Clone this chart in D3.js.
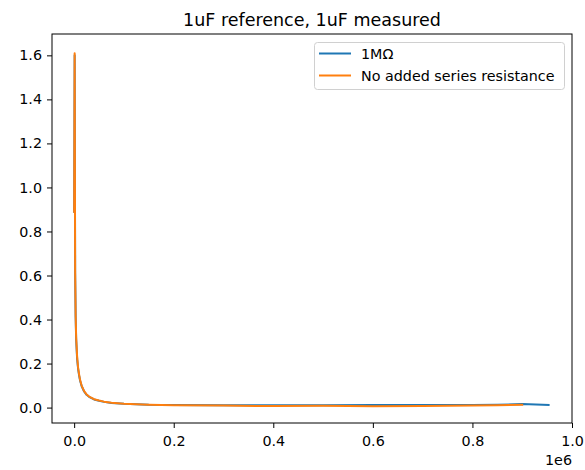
<!DOCTYPE html>
<html>
<head>
<meta charset="utf-8">
<script src="https://cdn.jsdelivr.net/npm/d3@7"></script>
<style>
  body { margin: 0; background: #fff; }
  text { font-family: "DejaVu Sans", sans-serif; fill: #000; }
</style>
</head>
<body>
<div class="center"></div>
<script>

// readings (x in Hz, y unitless)
var xs_1M = [0, 1000, 2000, 3000, 4000, 6000, 8000, 10000, 12000, 15000, 20000, 25000, 30000, 40000, 50000, 60000, 75000, 100000, 150000, 200000, 300000, 400000, 500000, 600000, 700000, 800000, 850000, 900000, 953000];
var ys_1M = [0.89, 1.60, 0.61, 0.41, 0.31, 0.22, 0.175, 0.145, 0.122, 0.098, 0.073, 0.058, 0.049, 0.037, 0.031, 0.026, 0.021, 0.017, 0.013, 0.012, 0.011, 0.011, 0.011, 0.012, 0.012, 0.012, 0.013, 0.016, 0.012];

var xs_none = [0, 1000, 2000, 3000, 4000, 6000, 8000, 10000, 12000, 15000, 20000, 25000, 30000, 40000, 50000, 60000, 75000, 100000, 150000, 200000, 300000, 400000, 500000, 600000, 700000, 800000, 850000, 900000];
var ys_none = [0.89, 1.61, 0.62, 0.42, 0.32, 0.23, 0.18, 0.15, 0.125, 0.10, 0.075, 0.06, 0.05, 0.038, 0.032, 0.027, 0.022, 0.017, 0.013, 0.011, 0.009, 0.007, 0.008, 0.006, 0.007, 0.010, 0.011, 0.013];

var series_names = ["1M\u03A9", "No added series resistance"];
var xticks = [0, 200000, 400000, 600000, 800000, 1000000];
var yticks = [0, 0.2, 0.4, 0.6, 0.8, 1.0, 1.2, 1.4, 1.6];

var width = 585, height = 470;
var pl = 52, pr = 572, pt = 34, pb = 423;   // plot box edges
var fs = "14.3px";

var svg = d3.select(".center").append("svg")
    .attr("width", width)
    .attr("height", height);

var x = d3.scaleLinear().domain([-44500, 1000000]).range([pl, pr]);
var y = d3.scaleLinear().domain([-0.07, 1.697]).range([pb, pt]);

var color = d3.scaleOrdinal()
    .domain(series_names)
    .range(["#1f77b4", "#ff7f0e"]);

svg.append("text")
    .text("1uF reference, 1uF measured")
    .attr("x", (pl + pr) / 2)
    .attr("y", 26)
    .attr("font-size", "17.5px")
    .style("text-anchor", "middle");

// axes
var xAxis = d3.axisBottom(x).tickValues(xticks).tickSize(5).tickPadding(5)
    .tickFormat(function(d){ return (d / 1e6).toFixed(1); });
var yAxis = d3.axisLeft(y).tickValues(yticks).tickSize(5).tickPadding(5)
    .tickFormat(function(d){ return d.toFixed(1); });

var gx = svg.append("g").attr("transform", "translate(0," + pb + ")").call(xAxis);
var gy = svg.append("g").attr("transform", "translate(" + pl + ",0)").call(yAxis);
[gx, gy].forEach(function(g){
  g.select(".domain").remove();
  g.selectAll("line").attr("stroke", "#000").attr("stroke-width", 1);
  g.selectAll("text").attr("font-size", fs).attr("font-family", "DejaVu Sans, sans-serif").attr("fill", "#000");
});
gx.selectAll("text").attr("dy", "0.9em");

svg.append("text")
    .text("1e6")
    .attr("x", pr)
    .attr("y", 465)
    .attr("font-size", fs)
    .style("text-anchor", "end");

// lines
svg.append("clipPath").attr("id", "clip").append("rect")
    .attr("x", pl).attr("y", pt).attr("width", pr - pl).attr("height", pb - pt);

var line = d3.line()
    .x(function(d){ return x(d[0]); })
    .y(function(d){ return y(d[1]); });

var series = [
  {name: series_names[0], pts: d3.zip(xs_1M, ys_1M)},
  {name: series_names[1], pts: d3.zip(xs_none, ys_none)}
];

svg.append("g").attr("clip-path", "url(#clip)")
  .selectAll("path")
  .data(series)
  .enter().append("path")
  .attr("d", function(d){ return line(d.pts); })
  .attr("fill", "none")
  .attr("stroke", function(d){ return color(d.name); })
  .attr("stroke-width", 2)
  .attr("stroke-linejoin", "round")
  .attr("stroke-linecap", "square");

// frame
svg.append("rect")
    .attr("x", pl).attr("y", pt)
    .attr("width", pr - pl).attr("height", pb - pt)
    .attr("fill", "none")
    .attr("stroke", "#000")
    .attr("stroke-width", 1);

// legend
var lg = svg.append("g");
lg.append("rect")
    .attr("x", 314.5).attr("y", 42.5)
    .attr("width", 250).attr("height", 47)
    .attr("rx", 3)
    .attr("fill", "#fff").attr("fill-opacity", 0.8)
    .attr("stroke", "#d0d0d0");

lg.selectAll(".lline")
    .data(series_names)
    .enter().append("line")
    .attr("x1", 319).attr("x2", 351)
    .attr("y1", function(d, n){ return 53.5 + n * 22; })
    .attr("y2", function(d, n){ return 53.5 + n * 22; })
    .attr("stroke", function(d){ return color(d); })
    .attr("stroke-width", 2);

lg.selectAll(".ltext")
    .data(series_names)
    .enter().append("text")
    .text(function(d){ return d; })
    .attr("x", 361)
    .attr("y", function(d, n){ return 58.8 + n * 22; })
    .attr("font-size", fs);

</script>
</body>
</html>
